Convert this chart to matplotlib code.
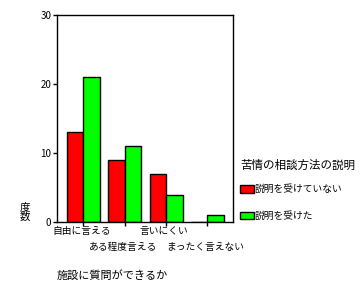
import numpy as np
import matplotlib.pyplot as plt

plt.rcParams['font.family'] = ['Noto Sans CJK JP', 'DejaVu Sans']

categories = ["自由に言える", "ある程度言える", "言いにくい", "まったく言えない"]
no_expl = [13, 9, 7, 0]
got_expl = [21, 11, 4, 1]
series_names = ["説明を受けていない", "説明を受けた"]

fig = plt.figure(figsize=(3.62, 2.90), dpi=100)
ax = fig.add_axes([0.157, 0.234, 0.487, 0.714])

x = np.arange(len(categories))
w = 0.40
b1 = ax.bar(x - w / 2, no_expl, w, color='#ff0000', edgecolor='black', linewidth=1, label=series_names[0])
b2 = ax.bar(x + w / 2, got_expl, w, color='#00ff00', edgecolor='black', linewidth=1, label=series_names[1])

ax.set_xlim(-0.64, 3.62)
ax.set_ylim(0, 30)
ax.set_yticks([0, 10, 20, 30])
ax.set_xticks(x)
ax.set_xticklabels([])
ax.tick_params(axis='both', length=3, width=1, labelsize=7, pad=1)
for s in ax.spines.values():
    s.set_linewidth(1)

# staggered category labels
for i, c in enumerate(categories):
    yoff = -0.045 if i % 2 == 0 else -0.12
    ax.text(i - 0.05, yoff, c, transform=ax.get_xaxis_transform(), ha='center', va='center', fontsize=7)

fig.text(25 / 362, 1 - 212 / 290, "度\n数", ha='center', va='center', fontsize=7.5, linespacing=1.0)
fig.text(112 / 362, 1 - 275 / 290, "施設に質問ができるか", ha='center', va='center', fontsize=8)

leg = fig.legend(handles=[b1, b2], title="苦情の相談方法の説明", loc='upper left',
                 bbox_to_anchor=(233 / 362, 1 - 152 / 290), frameon=False, fontsize=7,
                 title_fontsize=8.3, handlelength=1.5, handleheight=0.8, handletextpad=0.05,
                 labelspacing=1.7, alignment='left', borderpad=0.2)
leg._legend_box.sep = 9

fig.savefig('out.png', dpi=100)
